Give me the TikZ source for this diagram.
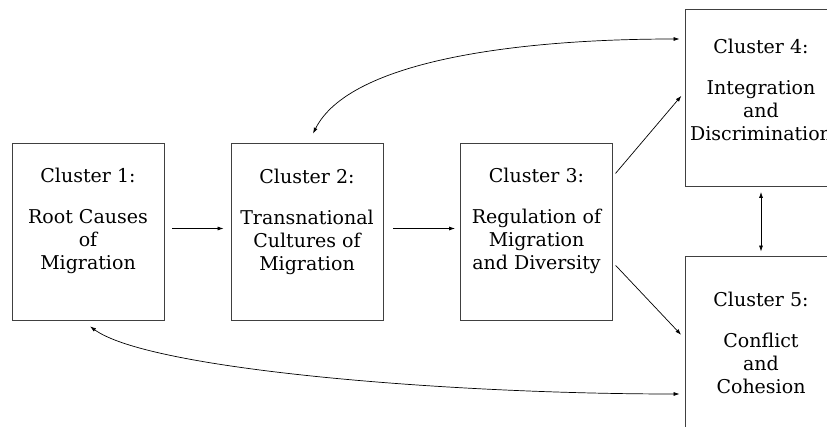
\documentclass[tikz,border=0pt]{standalone}
\usepackage{fontspec}
\setmainfont{DejaVu Serif}
\usetikzlibrary{positioning,arrows.meta}
\newcommand{\bw}{152}
\newcommand{\bh}{177}
\tikzset{
    box/.style={draw=black!75, line width=0.8pt, minimum width=\bw pt, minimum height=\bh pt, inner sep=0pt},
    boxtext/.style={align=center, inner sep=0pt, font=\fontsize{19}{23}\selectfont},
    link/.style={-{Latex[length=6pt,width=4pt]}, line width=0.7pt},
    both/.style={{Latex[length=6pt,width=4pt]}-{Latex[length=6pt,width=4pt]}, line width=0.7pt},
}
\newcommand{\clusterbox}[5]{\node[box] (#1) at (#2) {}; \node[boxtext, below=#3 of #1.north] (#1t) {#4\\[18pt]#5};}

\begin{document}
\begin{tikzpicture}[x=1pt,y=-1pt]
    \clip (0,0) rectangle (827,427);
    \clusterbox{c1}{88,231.5}{25.5pt}{Cluster 1:}{Root Causes\\of\\Migration}
    \clusterbox{c2}{307,231.5}{26pt}{Cluster 2:}{Transnational\\Cultures of\\Migration}
    \clusterbox{c3}{536.5,231.5}{25.5pt}{Cluster 3:}{Regulation of\\Migration\\and Diversity}
    \clusterbox{c4}{761,98}{30pt}{Cluster 4:}{Integration\\and\\Discrimination}
    \clusterbox{c5}{761,344.5}{36pt}{Cluster 5:}{Conflict\\and\\Cohesion}

    \draw[link, shorten <=8pt, shorten >=7pt] ([yshift=3pt]c1.east) -- ([yshift=3pt]c2.west);
    \draw[link, shorten <=10pt, shorten >=5pt] ([yshift=3pt]c2.east) -- ([yshift=3pt]c3.west);
    \draw[link, shorten <=4pt, shorten >=5pt] ([yshift=55pt]c3.east) -- ([yshift=6pt]c4.west);
    \draw[link, shorten <=4pt, shorten >=5pt] ([yshift=-31pt]c3.east) -- ([yshift=6pt]c5.west);
    \draw[both, shorten <=5pt, shorten >=4pt] (c4.south) -- (c5.north);

    % long feedback curves
    \draw[both] ([xshift=6pt,yshift=9pt]c2.north) .. controls (350,60) and (520,39) .. ([xshift=-5pt,yshift=59pt]c4.west);
    \draw[both] ([xshift=2pt,yshift=-6pt]c1.south) .. controls (150,370) and (450,394) .. ([xshift=-5pt,yshift=-49.5pt]c5.west);
\end{tikzpicture}
\end{document}
